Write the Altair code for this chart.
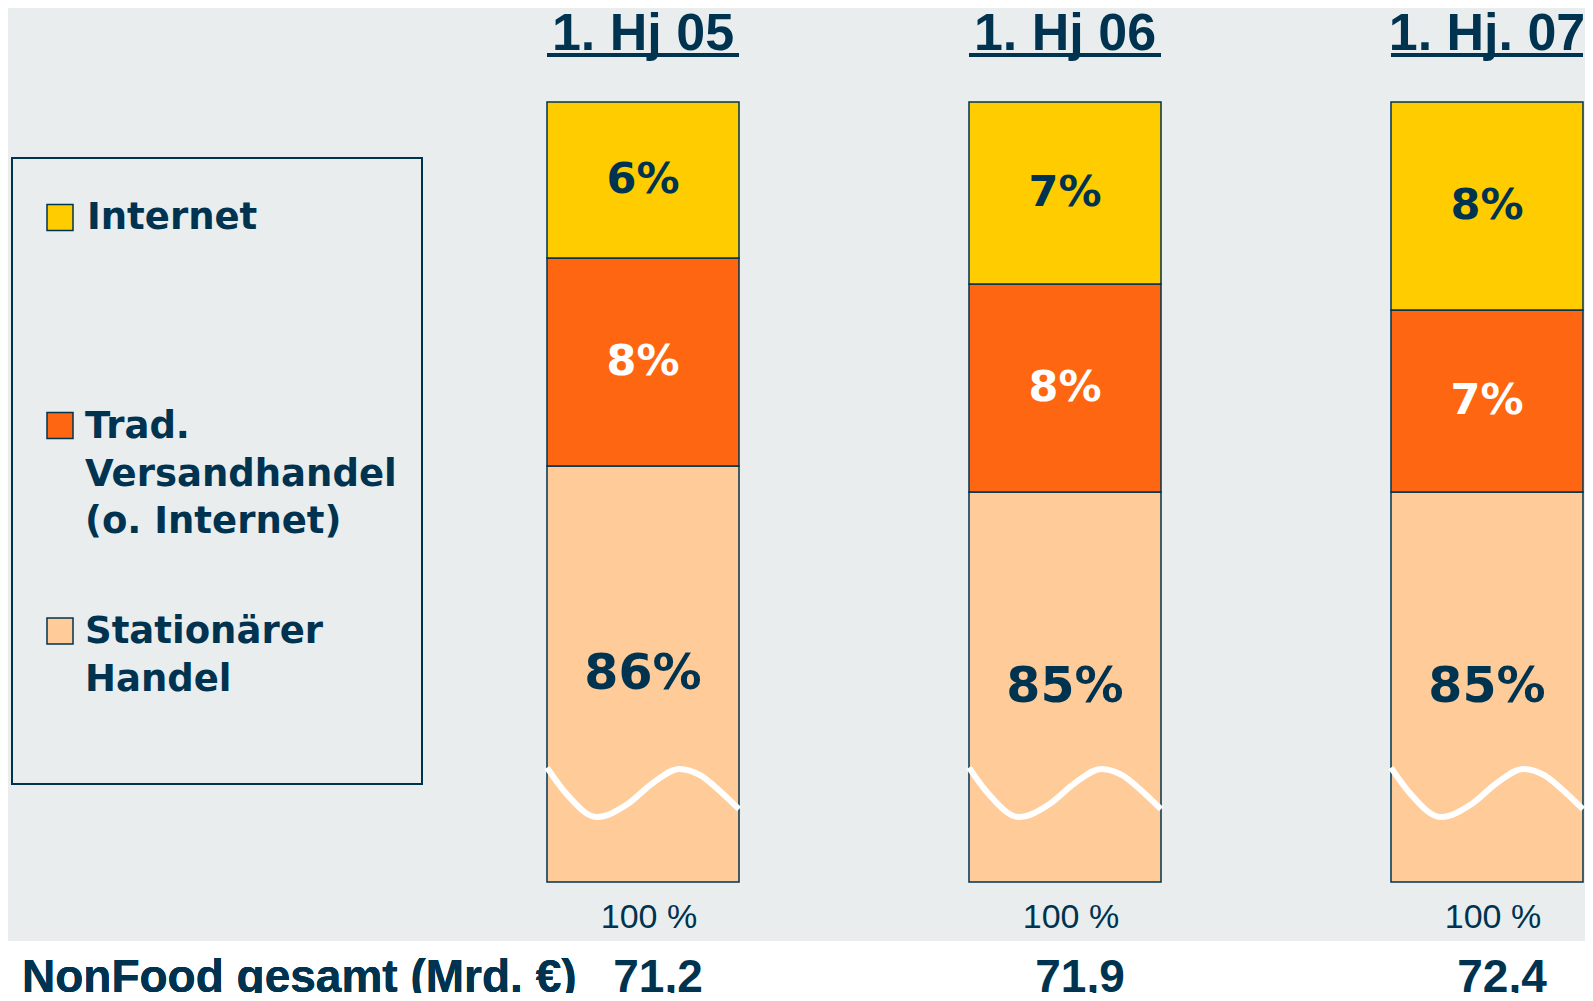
import altair as alt
import pandas as pd

# ---------------- data ----------------
periods = ["1. Hj 05", "1. Hj 06", "1. Hj. 07"]
series = ["Internet", "Trad. Versandhandel (o. Internet)", "Stationärer Handel"]
internet = [6, 7, 8]
versand = [8, 8, 7]
stationaer = [86, 85, 85]
totals = ["71,2", "71,9", "72,4"]
base_labels = ["100 %", "100 %", "100 %"]
legend_lines = [["Internet"], ["Trad.", "Versandhandel", "(o. Internet)"], ["Stationärer", "Handel"]]

# axis-break wave (decoration): position across bar 0..1, level in %
wave_t = [0.0, 0.1, 0.26, 0.42, 0.55, 0.69, 0.8, 0.9, 1.0]
wave_y = [74.4, 73.4, 72.5, 73.0, 73.8, 74.35, 74.1, 73.5, 72.8]

# ---------------- style ----------------
NAVY = "#00334F"
BG = "#E9EDEE"
COLORS = ["#FFCC00", "#FF6611", "#FFCC99"]
HW = 0.2275  # half bar width in x units

rows = []
for i, p in enumerate(periods):
    for s, vals, order in [(series[2], stationaer, 0), (series[1], versand, 1), (series[0], internet, 2)]:
        rows.append({"idx": i + 1, "period": p, "series": s, "value": vals[i], "order": order})
df = pd.DataFrame(rows)

top = pd.DataFrame({"idx": [1, 2, 3], "period": periods, "total": totals, "base": base_labels})
wave = pd.DataFrame([
    {"idx": i + 1, "wx": i + 1 - HW + t * 2 * HW, "wy": y, "k": k}
    for i in range(len(periods)) for k, (t, y) in enumerate(zip(wave_t, wave_y))
])

xs = alt.Scale(domain=[1, 3], range=[635, 1479], zero=False, nice=False)
ys = alt.Scale(domain=[70, 100], range=[872, 92], zero=False, nice=False)
cs = alt.Scale(domain=series, range=COLORS)

stacked = (
    alt.Chart(df)
    .transform_stack(stack="value", groupby=["idx"], as_=["y0", "y1"],
                     sort=[alt.SortField("order", order="ascending")])
    .transform_calculate(y0c="max(datum.y0, 70)",
                         ymid="(max(datum.y0, 70) + datum.y1) / 2",
                         xl=f"datum.idx - {HW}", xr=f"datum.idx + {HW}",
                         lbl="datum.value + '%'")
)

bars = stacked.mark_rect(stroke=NAVY, strokeWidth=1.5).encode(
    x=alt.X("xl:Q", scale=xs, axis=None),
    x2="xr:Q",
    y=alt.Y("y1:Q", scale=ys, axis=None),
    y2="y0c:Q",
    color=alt.Color("series:N", scale=cs, legend=None),
)

labels = stacked.mark_text(font="DejaVu Sans", fontWeight="bold", baseline="middle", align="center").encode(
    x=alt.X("idx:Q", scale=xs, axis=None),
    y=alt.Y("ymid:Q", scale=ys, axis=None),
    text="lbl:N",
    color=alt.condition("datum.order == 1", alt.value("white"), alt.value(NAVY)),
    size=alt.condition("datum.order == 0", alt.value(49), alt.value(43)),
)

waves = alt.Chart(wave).mark_line(color="white", strokeWidth=6, interpolate="monotone").encode(
    x=alt.X("wx:Q", scale=xs, axis=None),
    y=alt.Y("wy:Q", scale=ys, axis=None),
    detail="idx:N",
    order="k:Q",
)

tbase = alt.Chart(top).transform_calculate(xl=f"datum.idx - {HW}", xr=f"datum.idx + {HW}")

titles = tbase.mark_text(font="Liberation Sans", fontWeight="bold", fontSize=52, color=NAVY,
                         baseline="alphabetic", align="center").encode(
    x=alt.X("idx:Q", scale=xs, axis=None), y=alt.value(40), text="period:N")
underline = tbase.mark_rule(strokeWidth=4, color=NAVY).encode(
    x=alt.X("xl:Q", scale=xs, axis=None), x2="xr:Q", y=alt.value(45))

base_txt = tbase.mark_text(font="Liberation Sans", fontSize=34, color=NAVY,
                           baseline="middle", align="center", dx=6).encode(
    x=alt.X("idx:Q", scale=xs, axis=None), y=alt.value(908), text="base:N")

strip = alt.Chart(top).mark_rect(color="white").encode(
    x=alt.value(0), x2=alt.value(1577), y=alt.value(931), y2=alt.value(985))

tot_txt = tbase.mark_text(font="Liberation Sans", fontWeight="bold", fontSize=46,
                          color=NAVY, baseline="middle", align="center", dx=15).encode(
    x=alt.X("idx:Q", scale=xs, axis=None), y=alt.value(968), text="total:N")
tot_title = alt.Chart(top).mark_text(font="Liberation Sans", fontWeight="bold",
                                     fontSize=46, color=NAVY, baseline="middle", align="left").encode(
    x=alt.value(14), y=alt.value(968), text=alt.value("NonFood gesamt (Mrd. €)"))

# ---------------- legend (custom box) ----------------
leg_df = pd.DataFrame({"series": series})
box = alt.Chart(top).mark_rect(filled=False, stroke=NAVY, strokeWidth=2).encode(
    x=alt.value(4), x2=alt.value(414), y=alt.value(148), y2=alt.value(774))

sq_y = [207.5, 415.5, 621]
line_y0 = [208, 417, 622]
text_x = [79, 77, 77]
LH = 47.5
leg_layers = [box]
for j, s in enumerate(series):
    leg_layers.append(
        alt.Chart(leg_df[leg_df.series == s]).mark_square(size=676, stroke=NAVY, strokeWidth=1.5, opacity=1).encode(
            x=alt.value(52), y=alt.value(sq_y[j]),
            color=alt.Color("series:N", scale=cs, legend=None))
    )
    for k, line in enumerate(legend_lines[j]):
        leg_layers.append(
            alt.Chart(leg_df[leg_df.series == s]).mark_text(font="DejaVu Sans", fontWeight="bold", fontSize=37,
                                                            color=NAVY, baseline="middle", align="left").encode(
                x=alt.value(text_x[j]), y=alt.value(line_y0[j] + k * LH), text=alt.value(line))
        )

chart = alt.layer(
    strip, bars, waves, labels, titles, underline, base_txt, tot_txt, tot_title, *leg_layers
).resolve_scale(color="shared").properties(
    width=1577, height=985,
    autosize=alt.AutoSizeParams(type="fit", contains="padding"),
    padding=0,
    background=BG,
).configure_view(stroke=None)

chart.save("out.html", embed_options={"renderer": "svg", "actions": False})
